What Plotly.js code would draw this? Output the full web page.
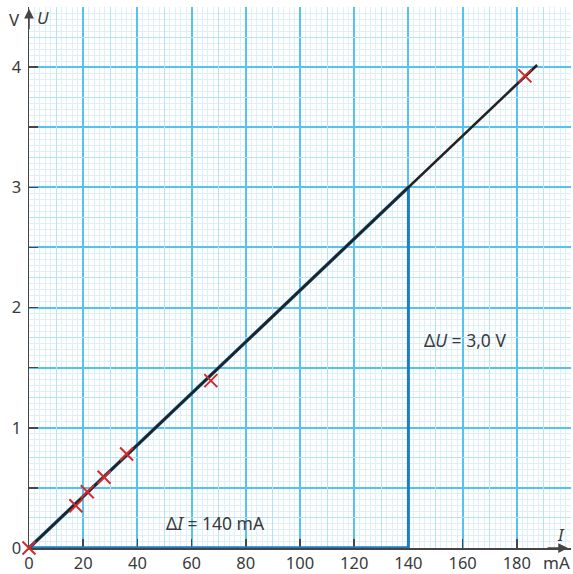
<!DOCTYPE html>
<html>
<head>
<meta charset="utf-8">
<script src="https://cdn.plot.ly/plotly-3.0.1.min.js"></script>
<style>html,body{margin:0;padding:0;background:#fff;}#chart{width:573px;height:574px;}</style>
</head>
<body>
<div id="chart"></div>
<script>
// Measured points: current I (mA) and voltage U (V)
var currentI = [0, 17.3, 21.5, 27.7, 36.0, 67.1, 183.0];
var voltageU = [0, 0.352, 0.468, 0.588, 0.782, 1.392, 3.927];

// Fitted line through origin
var fitI = [0, 187.5];
var slope = 3.0 / 140;          // V per mA
var fitU = fitI.map(function (v) { return v * slope; });

// Slope triangle
var deltaI = 140;   // mA
var deltaU = 3.0;   // V

// Axis ticks
var xTickVals = [0, 20, 40, 60, 80, 100, 120, 140, 160, 180, 200];
var xTickText = ['0', '20', '40', '60', '80', '100', '120', '140', '160', '180', ''];
var yTickVals = [0, 0.5, 1, 1.5, 2, 2.5, 3, 3.5, 4, 4.5];
var yTickText = ['0', '', '1', '', '2', '', '3', '', '4', ''];
// Intermediate grid lines (graph paper)
var xMidVals = [10, 30, 50, 70, 90, 110, 130, 150, 170, 190];
var yMidVals = [0.25, 0.75, 1.25, 1.75, 2.25, 2.75, 3.25, 3.75, 4.25];

var strong = '#55c3ef';
var medium = '#b6e2f6';
var light = '#ddf0fa';
var axisCol = '#454545';
var textCol = '#3a3a3a';
var blue = '#1b7dc4';
var red = '#d42a2a';
var fontFam = 'Noto Sans, Open Sans, sans-serif';

var traces = [
  { // horizontal side of triangle (Delta I)
    x: [0, deltaI], y: [0, 0],
    mode: 'lines', line: { color: blue, width: 3.5 }, cliponaxis: false, hoverinfo: 'skip'
  },
  { // vertical side (Delta U)
    x: [deltaI, deltaI], y: [0, deltaU],
    mode: 'lines', line: { color: blue, width: 3 }, cliponaxis: false, hoverinfo: 'skip'
  },
  { // hypotenuse
    x: [0, deltaI], y: [0, deltaU],
    mode: 'lines', line: { color: blue, width: 3.5 }, cliponaxis: false, hoverinfo: 'skip'
  },
  { // fitted line
    x: fitI, y: fitU,
    mode: 'lines', line: { color: '#222222', width: 2.6 }, cliponaxis: false, hoverinfo: 'skip'
  },
  { // measurements
    x: currentI, y: voltageU, xaxis: 'x2', yaxis: 'y2',
    mode: 'markers', cliponaxis: false,
    marker: { symbol: 'x-thin', size: 13, line: { color: red, width: 2 }, color: red }
  }
];

var layout = {
  width: 573, height: 574,
  margin: { l: 29, r: 2, t: 7, b: 26 },
  paper_bgcolor: '#ffffff', plot_bgcolor: '#ffffff',
  showlegend: false,
  font: { family: fontFam, color: textCol, size: 16 },
  xaxis: {
    range: [0, 200], tickmode: 'array', tickvals: xTickVals, ticktext: xTickText,
    showgrid: true, gridcolor: strong, gridwidth: 2,
    minor: { tick0: 0, dtick: 2, showgrid: true, gridcolor: light, gridwidth: 1, ticks: '' },
    ticks: 'inside', ticklen: 9, tickwidth: 1.5, tickcolor: axisCol,
    showline: true, linecolor: axisCol, linewidth: 1.5, zeroline: false,
    layer: 'below traces',
    tickfont: { family: fontFam, size: 16.5, color: textCol }, fixedrange: true
  },
  yaxis: {
    range: [0, 4.5], tickmode: 'array', tickvals: yTickVals, ticktext: yTickText,
    showgrid: true, gridcolor: strong, gridwidth: 2,
    minor: { tick0: 0, dtick: 0.05, showgrid: true, gridcolor: light, gridwidth: 1, ticks: '' },
    ticks: 'inside', ticklen: 9, tickwidth: 1.5, tickcolor: axisCol,
    showline: true, linecolor: axisCol, linewidth: 1.5, zeroline: false,
    layer: 'below traces', ticklabelstandoff: 3,
    tickfont: { family: fontFam, size: 16.5, color: textCol }, fixedrange: true
  },
  xaxis2: {
    overlaying: 'x', anchor: 'y2', range: [0, 200],
    tickmode: 'array', tickvals: xMidVals, showticklabels: false, ticks: '',
    showgrid: true, gridcolor: medium, gridwidth: 1,
    showline: false, zeroline: false, fixedrange: true
  },
  yaxis2: {
    overlaying: 'y', anchor: 'x2', range: [0, 4.5],
    tickmode: 'array', tickvals: yMidVals, showticklabels: false, ticks: '',
    showgrid: true, gridcolor: medium, gridwidth: 1,
    showline: false, zeroline: false, fixedrange: true
  },
  annotations: [
    { // y arrow
      xref: 'x', yref: 'y', x: 0, y: 4.485, ax: 0, ay: 22, text: '',
      showarrow: true, arrowhead: 2, arrowsize: 1.3, arrowwidth: 1.5, arrowcolor: axisCol
    },
    { // x arrow
      xref: 'x', yref: 'y', x: 198.9, y: 0, ax: -22, ay: 0, text: '',
      showarrow: true, arrowhead: 2, arrowsize: 1.3, arrowwidth: 1.5, arrowcolor: axisCol
    },
    { xref: 'x', yref: 'y', x: 0, y: 4.4, xshift: -15, text: 'V', showarrow: false,
      font: { family: fontFam, size: 17, color: textCol } },
    { xref: 'x', yref: 'y', x: 5.2, y: 4.41, text: '<i>U</i>', showarrow: false,
      font: { family: fontFam, size: 17, color: textCol } },
    { xref: 'x', yref: 'y', x: 194.5, y: 0, yshift: -14, text: 'mA', showarrow: false,
      font: { family: fontFam, size: 17, color: textCol } },
    { xref: 'x', yref: 'y', x: 196.3, y: 0.11, text: '<i>I</i>', showarrow: false,
      font: { family: fontFam, size: 17, color: textCol } },
    { xref: 'x', yref: 'y', x: 69, y: 0.208, text: 'Δ<i>I</i> = 140 mA', showarrow: false,
      font: { family: fontFam, size: 17.5, color: textCol } },
    { xref: 'x', yref: 'y', x: 160.8, y: 1.733, text: 'Δ<i>U</i> = 3,0 V', showarrow: false,
      font: { family: fontFam, size: 17.5, color: textCol } }
  ]
};

Plotly.newPlot('chart', traces, layout, { staticPlot: true, displayModeBar: false });
</script>
</body>
</html>
